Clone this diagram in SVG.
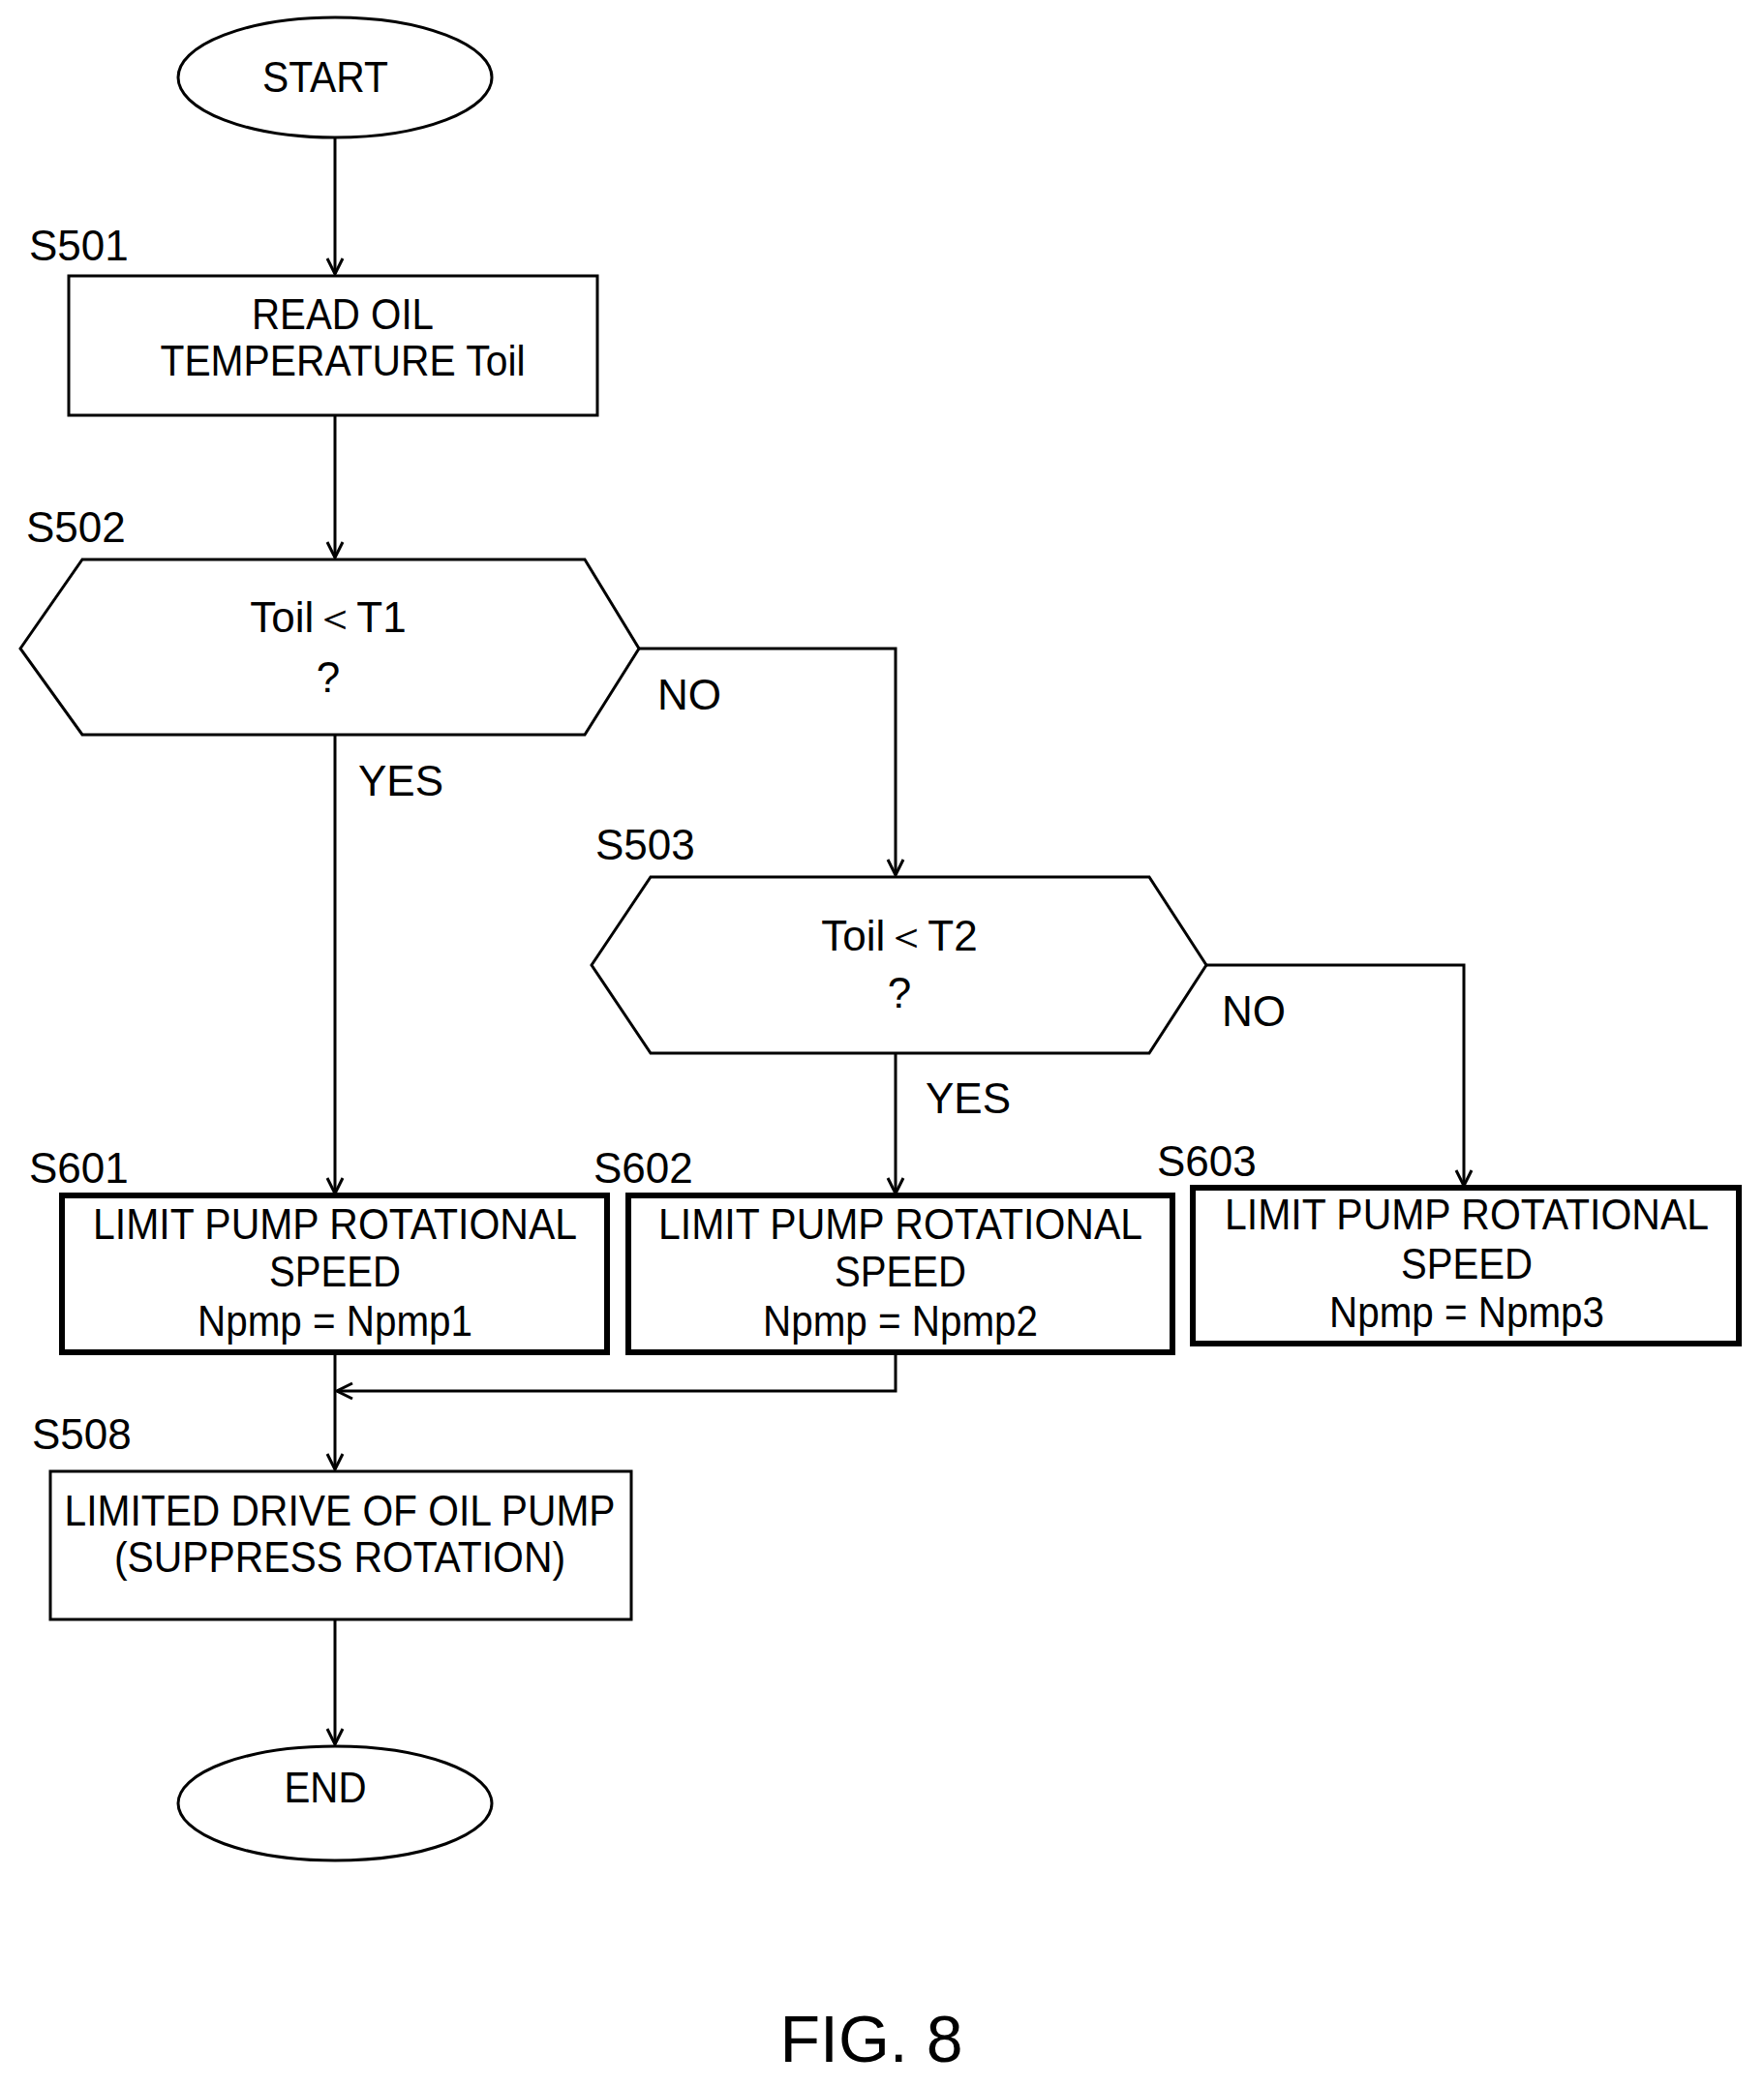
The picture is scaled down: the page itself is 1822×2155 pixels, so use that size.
<svg xmlns="http://www.w3.org/2000/svg" width="1822" height="2155" viewBox="0 0 1822 2155">
<style>
text{font-family:"Liberation Sans",Arial,sans-serif;font-size:44px;fill:#000;text-anchor:middle}
.lbl{text-anchor:start}
.s{fill:#fff;stroke:#000;stroke-width:3}
.t{fill:#fff;stroke:#000;stroke-width:6}
.c{fill:none;stroke:#000;stroke-width:3}
</style>
<defs><marker id="a" viewBox="0 0 20 20" refX="18" refY="10" markerWidth="20" markerHeight="20" markerUnits="userSpaceOnUse" orient="auto"><path d="M2,2 L18,10 L2,18" fill="none" stroke="#000" stroke-width="3"/></marker></defs>
<rect width="1822" height="2155" fill="#fff"/>
<g id="connectors">
<path class="c" d="M346,142 V283" marker-end="url(#a)"/>
<path class="c" d="M346,429 V576" marker-end="url(#a)"/>
<path class="c" d="M346,759 V1233" marker-end="url(#a)"/>
<path class="c" d="M660,670 H925 V904" marker-end="url(#a)"/>
<path class="c" d="M925,1088 V1233" marker-end="url(#a)"/>
<path class="c" d="M1246,997 H1512 V1225" marker-end="url(#a)"/>
<path class="c" d="M925,1397 V1437 H348" marker-end="url(#a)"/>
<path class="c" d="M346,1397 V1518" marker-end="url(#a)"/>
<path class="c" d="M346,1673 V1802" marker-end="url(#a)"/>
<text x="370" y="822" class="lbl">YES</text>
<text x="679" y="733" class="lbl">NO</text>
<text x="956" y="1150" class="lbl">YES</text>
<text x="1262" y="1060" class="lbl">NO</text>
</g>
<g id="start"><ellipse class="s" cx="346" cy="80" rx="162" ry="62"/><text x="336" y="95" textLength="130" lengthAdjust="spacingAndGlyphs">START</text></g>
<g id="S501"><text x="30" y="269" class="lbl">S501</text><rect class="s" x="71" y="285" width="546" height="144"/><text x="354" y="340" textLength="188" lengthAdjust="spacingAndGlyphs">READ OIL</text><text x="354" y="388" textLength="377" lengthAdjust="spacingAndGlyphs">TEMPERATURE Toil</text></g>
<g id="S502"><text x="27" y="560" class="lbl">S502</text><polygon class="s" points="21,670 85,578 604,578 660,670 604,759 85,759"/><text x="339" y="653">Toil＜T1</text><text x="339" y="715">?</text></g>
<g id="S503"><text x="615" y="888" class="lbl">S503</text><polygon class="s" points="611,997 672,906 1187,906 1246,997 1187,1088 672,1088"/><text x="929" y="982">Toil＜T2</text><text x="929" y="1041">?</text></g>
<g id="S601"><text x="30" y="1222" class="lbl">S601</text><rect class="t" x="64" y="1235" width="563" height="162"/><text x="346" y="1280" textLength="500" lengthAdjust="spacingAndGlyphs">LIMIT PUMP ROTATIONAL</text><text x="346" y="1329" textLength="136" lengthAdjust="spacingAndGlyphs">SPEED</text><text x="346" y="1380" textLength="284" lengthAdjust="spacingAndGlyphs">Npmp = Npmp1</text></g>
<g id="S602"><text x="613" y="1222" class="lbl">S602</text><rect class="t" x="649" y="1235" width="562" height="162"/><text x="930" y="1280" textLength="500" lengthAdjust="spacingAndGlyphs">LIMIT PUMP ROTATIONAL</text><text x="930" y="1329" textLength="136" lengthAdjust="spacingAndGlyphs">SPEED</text><text x="930" y="1380" textLength="284" lengthAdjust="spacingAndGlyphs">Npmp = Npmp2</text></g>
<g id="S603"><text x="1195" y="1215" class="lbl">S603</text><rect class="t" x="1232" y="1227" width="564" height="161"/><text x="1515" y="1270" textLength="500" lengthAdjust="spacingAndGlyphs">LIMIT PUMP ROTATIONAL</text><text x="1515" y="1321" textLength="136" lengthAdjust="spacingAndGlyphs">SPEED</text><text x="1515" y="1371" textLength="284" lengthAdjust="spacingAndGlyphs">Npmp = Npmp3</text></g>
<g id="S508"><text x="33" y="1497" class="lbl">S508</text><rect class="s" x="52" y="1520" width="600" height="153"/><text x="351" y="1576" textLength="569" lengthAdjust="spacingAndGlyphs">LIMITED DRIVE OF OIL PUMP</text><text x="351" y="1624" textLength="466" lengthAdjust="spacingAndGlyphs">(SUPPRESS ROTATION)</text></g>
<g id="end"><ellipse class="s" cx="346" cy="1863" rx="162" ry="59"/><text x="336" y="1862" textLength="85" lengthAdjust="spacingAndGlyphs">END</text></g>
<text x="900" y="2130" style="font-size:68px">FIG. 8</text>
</svg>
